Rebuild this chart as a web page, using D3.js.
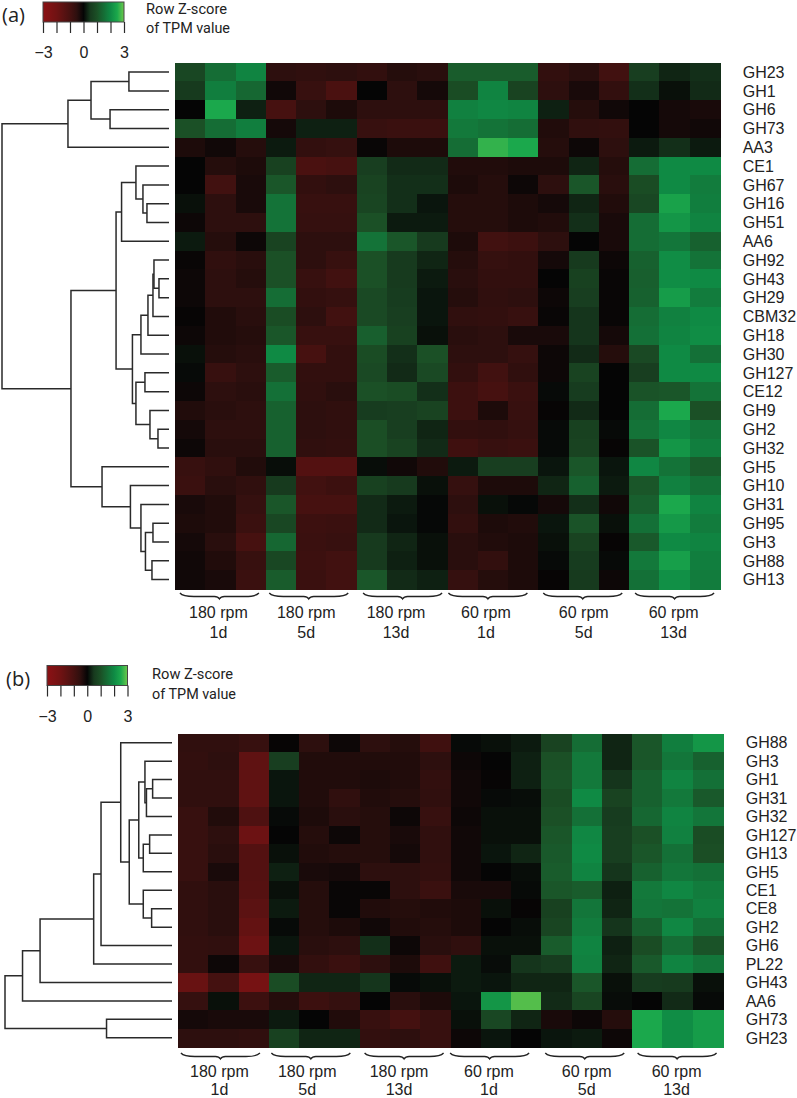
<!DOCTYPE html>
<html><head><meta charset="utf-8">
<script src="https://cdn.jsdelivr.net/npm/d3@7/dist/d3.min.js"></script>
<style>html,body{margin:0;padding:0;background:#fff}svg{display:block}</style>
</head><body><svg id="c" width="797" height="1098"></svg>
<script>
const rowsA=["GH23","GH1","GH6","GH73","AA3","CE1","GH67","GH16","GH51","AA6","GH92","GH43","GH29","CBM32","GH18","GH30","GH127","CE12","GH9","GH2","GH32","GH5","GH10","GH31","GH95","GH3","GH88","GH13"];
const zA=[
[.8,1.5,1.9,-.5,-.55,-.5,-.6,-.4,-.45,1.2,1.2,1.2,-.6,-.45,-.9,.6,.3,.4],
[.5,1.8,1.4,-.15,-.7,-1.1,0,-.5,-.2,.9,1.9,.7,-.5,-.25,-.6,.4,.1,.35],
[0,2.5,.25,-1,-.5,-.3,-.5,-.5,-.5,1.85,1.95,1.9,.25,-.4,-.15,0,-.2,-.25],
[1,1.5,1.8,-.2,.25,.25,-.7,-.75,-.75,1.7,1.6,1.5,-.35,-.55,-.6,0,-.2,-.15],
[-.3,-.15,-.4,.2,-.6,-.65,-.05,-.3,-.3,1.5,2.65,2.5,-.4,-.1,-.5,.2,.4,.2],
[0,-.4,-.3,.65,-1.1,-1,.6,.35,.35,-.35,-.35,-.3,-.3,.3,-.4,1.5,2,2],
[0,-.9,-.25,1.1,-.6,-.5,.7,.4,.4,-.3,-.4,-.1,-.5,1.1,-.45,.9,2,1.75],
[.1,-.5,-.25,1.6,-.7,-.7,.75,.4,.15,-.4,-.4,-.3,-.2,.3,-.35,.8,2.4,1.8],
[-.1,-.5,-.5,1.6,-.65,-.65,1,.2,.2,-.4,-.4,-.3,-.35,.4,-.25,1.5,2.2,1.9],
[.2,-.4,-.1,.7,-.5,-.5,1.6,1.1,.5,-.3,-.9,-.8,-.5,0,-.25,1.5,1.65,1.3],
[-.05,-.55,-.45,1,-.5,-.7,1,.5,.3,-.4,-.65,-.6,-.2,.5,-.1,1.3,2.05,1.6],
[-.1,-.5,-.4,1,-.7,-.9,1,.5,.2,-.45,-.6,-.6,0,.65,-.05,1.25,2.05,2],
[-.1,-.5,-.5,1.5,-.6,-.65,.85,.55,.15,-.4,-.55,-.5,-.1,.6,-.05,1.3,2.3,1.75],
[-.02,-.35,-.45,.9,-.5,-.9,.85,.6,.15,-.55,-.6,-.7,-.05,.45,-.05,1.5,1.85,2],
[-.1,-.35,-.4,1.1,-.7,-.7,1.25,.65,.1,-.45,-.5,-.25,-.25,.45,-.2,1.55,1.9,2.05],
[.1,-.4,-.45,2,-1,-.6,.9,.4,1,-.5,-.5,-.65,-.1,.35,-.4,.85,2,1.55],
[.05,-.7,-.5,1.2,-.6,-.6,.85,.35,.85,-.6,-.9,-.55,-.1,.7,0,.6,2,2],
[-.1,-.5,-.45,1.55,-.55,-.45,1,.9,.4,-.8,-1,-.75,.05,.55,0,1.05,1.1,1.6],
[-.35,-.45,-.5,1.3,-.5,-.55,.55,.6,.7,-.8,-.3,-.7,-.02,.35,0,1.5,2.5,1],
[-.2,-.5,-.5,1.3,-.5,-.55,.95,.6,.3,-.6,-.55,-.65,.05,.65,.05,1.6,1.95,1.65],
[-.1,-.45,-.45,1.3,-.55,-.6,.95,.7,.35,-.85,-.7,-.75,.05,.7,-.02,1.05,2.2,1.8],
[-.7,-.55,-.35,.08,-1.3,-1.3,.08,-.15,-.35,.2,.6,.6,.15,1.1,.15,1.95,1.6,1.2],
[-.75,-.45,-.55,.5,-.9,-.8,.65,.5,.1,-.65,-.3,-.3,.3,1.3,.2,1.1,1.85,1.55],
[-.25,-.35,-.65,1.1,-1,-1,.35,.2,.03,-.5,.1,.03,-.2,.4,-.15,1.25,2.5,1.9],
[-.3,-.35,-.75,.8,-.8,-.75,.35,.15,.03,-.6,-.3,-.35,.15,1.05,.1,1.55,2.25,1.75],
[-.2,-.45,-1,1.4,-.75,-.7,.5,.3,.1,-.45,-.35,-.3,.1,.7,-.02,1.15,2,1.9],
[-.15,-.35,-.7,.8,-.8,-.9,.5,.25,.1,-.45,-.6,-.3,.05,.55,.05,1.7,2.35,1.8],
[-.15,-.25,-.75,1.2,-.75,-.9,1.1,.35,.25,-.65,-.4,-.3,-.02,.5,-.1,1.55,2.1,1.75]];
const treeA=[100,
 [60.5,[46.7,[24,"GH23","GH1"],[35.3,"GH6","GH73"]],"AA3"],
 [58.7,
  [31.7,
   [28.4,[19.8,"CE1",[15.6,"GH67",[13.2,"GH16","GH51"]]],"AA6"],
   [21.9,
    [16.8,[12.6,[9.6,[9,"GH92",[6,"GH43","GH29"]],"CBM32"],"GH18"],"GH30"],
    [19.8,[14.4,"GH127","CE12"],[11.4,"GH9",[6.6,"GH2","GH32"]]]]],
  [40.1,"GH5",[23.1,"GH10",[16.8,"GH31",[14.1,[9.6,"GH95","GH3"],[10.2,"GH88","GH13"]]]]]]];

const rowsB=["GH88","GH3","GH1","GH31","GH32","GH127","GH13","GH5","CE1","CE8","GH2","GH6","PL22","GH43","AA6","GH73","GH23"];
const zB=[
[-.55,-.55,-.7,-.02,-.5,-.1,-.5,-.4,-.85,.05,.1,.2,.7,1.5,.3,1.1,1.8,2.2],
[-.6,-.5,-1.6,.6,-.35,-.35,-.35,-.35,-.5,-.1,0,.25,1,1.7,.3,1.1,1.65,1.3],
[-.55,-.55,-1.6,.15,-.35,-.35,-.3,-.35,-.6,-.15,-.02,.25,1.05,1.7,.45,1.3,1.9,1.55],
[-.55,-.55,-1.6,.15,-.35,-.55,-.35,-.4,-.55,-.15,.05,.08,.9,2,.7,1.3,1.7,1.15],
[-.7,-.35,-1.2,.05,-.3,-.45,-.4,-.1,-.7,-.1,.1,.1,1,1.55,.55,1.4,1.9,1.65],
[-.7,-.5,-1.9,0,-.4,-.1,-.4,-.25,-.55,-.15,.1,.1,1.1,1.95,.6,1,1.85,.9],
[-.7,-.45,-1.3,.1,-.35,-.4,-.4,-.2,-.55,-.15,.15,.3,1.15,2,.6,1.1,1.55,.95],
[-.7,-.25,-1.3,.25,-.25,-.2,-.5,-.5,-.6,-.15,0,.08,1.2,1.9,.45,1.3,1.65,1.55],
[-.55,-.45,-1.35,.1,-.4,-.05,-.05,-.5,-.75,-.25,-.25,.05,1.1,1.2,.25,1.7,1.95,1.75],
[-.55,-.45,-1.5,.2,-.4,-.05,-.35,-.4,-.35,-.3,.1,-.02,.65,1.65,.3,1.65,1.6,1.85],
[-.55,-.45,-1.7,.05,-.4,-.3,-.15,-.35,-.4,-.3,0,.08,.75,1.75,.45,1.3,1.95,1.55],
[-.6,-.55,-1.9,.15,-.45,-.5,.4,-.1,-.45,-.55,.1,.1,1.2,1.9,.25,.9,1.5,1.05],
[-.6,-.1,-.7,-.25,-.6,-.75,-.5,-.3,-.85,.2,.07,.45,.55,1.85,.3,1.15,1.9,1.65],
[-1.8,-.95,-2.2,.9,.3,.3,.45,.05,.1,.2,.15,.3,.3,1.1,.1,.55,.5,.1],
[-.65,.1,-.8,-.4,-.8,-.65,0,-.45,-.3,.15,2.2,2.85,.35,.75,.07,0,.35,.05],
[-.2,-.25,-.25,.2,0,-.35,-.7,-.95,-.7,.1,.8,.3,-.25,-.1,-.4,2.5,2.05,2.3],
[-.5,-.5,-.55,.65,.3,.3,-.6,-.5,-.7,-.1,.15,0,.15,.2,-.1,2.5,2.05,2.3]];
const treeB=[100,
 [89.5,
  [79,
   [46.9,
    [42.5,
     [30.7,"GH88",
      [25.6,
       [19.9,
        [16.2,"GH3",[15.3,[11.6,"GH1","GH31"],"GH32"]],
        [17.2,[13.4,"GH127","GH13"],"GH5"]],
       [17.2,"CE1",[12.2,"CE8","GH2"]]]],
     "GH6"],
    "PL22"],
   "GH43"],
  "AA6"],
 [39.2,"GH73","GH23"]];

const speeds=["180 rpm","180 rpm","180 rpm","60 rpm","60 rpm","60 rpm"];
const days=["1d","5d","13d","1d","5d","13d"];
const keyTicks=[-3,-2,-1,0,1,2,3];
const keyLabels=[-3,0,3];
const colorStops=[-3,-2,-1,-.5,0,.5,1,2,2.5,3];
const colorRange=["#8c1114","#701213","#461110","#2d0f0e","#050505","#173a1e","#1b5026","#0f8a44","#1ba84c","#6cc84b"];

const color=d3.scaleLinear().domain(colorStops).range(colorRange).interpolate(d3.interpolateRgb).clamp(true);
const svg=d3.select("#c");
const SANS="'Liberation Sans',Arial,sans-serif", HUM="'Open Sans',sans-serif", KEYF="Roboto,sans-serif";
const defs=svg.append("defs");

function panel(o){
  const g=svg.append("g");
  const nc=zA[0].length;
  const x=d3.scaleBand().domain(d3.range(nc)).range([o.hx0,o.hx1]);
  const y=d3.scaleBand().domain(o.rows).range([o.hy0,o.hy1]);
  // cells
  g.append("g").attr("shape-rendering","crispEdges").selectAll("g").data(o.z).join("g").each(function(row,i){
    d3.select(this).selectAll("rect").data(row).join("rect")
      .attr("x",(d,j)=>x(j)).attr("y",y(o.rows[i]))
      .attr("width",x.bandwidth()+.5).attr("height",y.bandwidth()+.5)
      .attr("fill",d=>color(d));
  });
  // row labels
  g.append("g").selectAll("text").data(o.rows).join("text")
    .attr("x",o.labelX).attr("y",d=>y(d)+y.bandwidth()/2).attr("dy",".36em")
    .attr("font-family",SANS).attr("font-size",16).attr("fill","#222").text(d=>d);
  // dendrogram
  const hx=d3.scaleLinear().domain([0,100]).range([o.leafX,o.rootX]);
  const dg=g.append("g").attr("fill","none").attr("stroke","#2a2a2a").attr("stroke-width",1.5);
  function walk(n){
    if(typeof n==="string") return {x:hx(0),y:y(n)+y.bandwidth()/2};
    const a=walk(n[1]),b=walk(n[2]),nx=hx(n[0]);
    const p=d3.path();
    p.moveTo(a.x,a.y);p.lineTo(nx,a.y);p.lineTo(nx,b.y);p.lineTo(b.x,b.y);
    dg.append("path").attr("d",p.toString());
    return {x:nx,y:(a.y+b.y)/2};
  }
  walk(o.tree);
  // braces and condition labels
  const groupW=(o.hx1-o.hx0)/6;
  speeds.forEach((s,i)=>{
    const c=o.hx0+groupW*(i+.5)+o.braceOff[i], hw=39.5, t=o.braceY, b=t+6;
    const p=d3.path();
    p.moveTo(c-hw,t);
    p.quadraticCurveTo(c-hw+3,t+3.5,c-hw+14,t+3.5);
    p.lineTo(c-5,t+3.5);
    p.quadraticCurveTo(c-1.5,t+3.5,c,b);
    p.quadraticCurveTo(c+1.5,t+3.5,c+5,t+3.5);
    p.lineTo(c+hw-14,t+3.5);
    p.quadraticCurveTo(c+hw-3,t+3.5,c+hw,t);
    g.append("path").attr("d",p.toString()).attr("fill","none").attr("stroke","#222").attr("stroke-width",1.3);
    const tx=o.hx0+groupW*(i+.5)+o.textOff[i];
    g.append("text").attr("x",tx).attr("y",o.speedY).attr("text-anchor","middle")
      .attr("font-family",SANS).attr("font-size",16).attr("fill","#222").text(s);
    g.append("text").attr("x",tx).attr("y",o.dayY).attr("text-anchor","middle")
      .attr("font-family",SANS).attr("font-size",16).attr("fill","#222").text(days[i]);
  });
  // key
  const k=d3.scaleLinear().domain([-3,3]).range([o.keyX0,o.keyX1]);
  const gid="kg"+o.tag;
  const lg=defs.append("linearGradient").attr("id",gid);
  d3.range(-3,3.01,.25).forEach(v=>lg.append("stop")
    .attr("offset",(v+3)/6).attr("stop-color",color(v)));
  g.append("rect").attr("x",o.keyX0).attr("y",o.keyY).attr("width",o.keyX1-o.keyX0).attr("height",20)
    .attr("fill",`url(#${gid})`).attr("stroke","#444").attr("stroke-width",1);
  const ax=d3.axisBottom(k).tickValues(keyTicks).tickSize(11).tickPadding(14)
    .tickFormat(d=>keyLabels.includes(d)?String(d).replace("-","\u2212"):"");
  const ag=g.append("g").attr("transform",`translate(0,${o.keyY+20})`).call(ax);
  ag.select(".domain").remove();
  ag.selectAll("line").attr("stroke","#2a2a2a").attr("stroke-width",1.2);
  ag.selectAll("text").attr("font-family",SANS).attr("font-size",16).attr("fill","#222");
  const titleLen=[81,84];
  ["Row Z-score","of TPM value"].forEach((t,i)=>g.append("text")
    .attr("x",o.titleX).attr("y",o.titleY[i]).attr("font-family",KEYF).attr("font-size",15)
    .attr("textLength",titleLen[i]).attr("lengthAdjust","spacingAndGlyphs").attr("fill","#222").text(t));
  g.append("text").attr("x",o.tagX).attr("y",o.tagY).attr("font-family",HUM).attr("font-size",20)
    .attr("fill","#222").text("("+o.tag+")");
}

panel({tag:"a",rows:rowsA,z:zA,tree:treeA,hx0:175,hx1:720,hy0:62.7,hy1:589,labelX:742.7,leafX:169,rootX:2,
  braceOff:[-1,-2.5,.5,-5,-1,0],textOff:[-2,-5,-6,-7,0,-1],braceY:593,speedY:618,dayY:638,
  keyX0:43,keyX1:124,keyY:2,titleX:146,titleY:[14,33],tagX:2,tagY:22});
panel({tag:"b",rows:rowsB,z:zB,tree:treeB,hx0:178,hx1:723,hy0:733.5,hy1:1047,labelX:745.7,leafX:172,rootX:5,
  braceOff:[-3,-3.4,-1,-6.3,-2,-.5],textOff:[-4,-7,-6,-7,0,-1],braceY:1053,speedY:1077,dayY:1094.5,
  keyX0:47,keyX1:127.5,keyY:665.5,titleX:152,titleY:[679,699],tagX:6,tagY:686});
</script></body></html>
